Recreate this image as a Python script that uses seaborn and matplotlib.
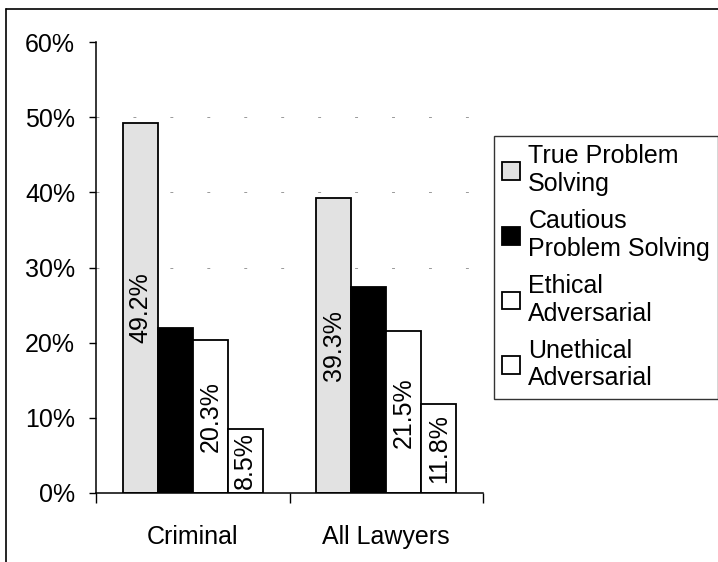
import matplotlib
matplotlib.use("Agg")
import matplotlib.pyplot as plt
import seaborn as sns
import pandas as pd
from matplotlib.lines import Line2D
from matplotlib.ticker import FuncFormatter, FixedLocator

groups = ["Criminal", "All Lawyers"]
styles = ["True Problem\nSolving", "Cautious\nProblem Solving", "Ethical\nAdversarial", "Unethical\nAdversarial"]
true_ps = [49.2, 39.3]
cautious_ps = [22.0, 27.4]
ethical_adv = [20.3, 21.5]
unethical_adv = [8.5, 11.8]
labelled = [True, False, True, True]
yticks = [0, 10, 20, 30, 40, 50, 60]

rows = []
for s, vals in zip(styles, [true_ps, cautious_ps, ethical_adv, unethical_adv]):
    for g, v in zip(groups, vals):
        rows.append({"group": g, "style": s, "value": v})
df = pd.DataFrame(rows)

sns.set_theme(style="white")
plt.rcParams["font.family"] = ["Liberation Sans", "DejaVu Sans"]

fig = plt.figure(figsize=(7.18, 5.62), dpi=100)
ax = fig.add_axes([96/718, 69/562, 387/718, 451/562])

palette = ["#e2e2e2", "#000000", "#ffffff", "#ffffff"]
sns.barplot(data=df, x="group", y="value", hue="style", hue_order=styles,
            order=groups, palette=palette, width=0.725, gap=0,
            edgecolor="black", linewidth=1.3, ax=ax, legend=True)

for cont, lab in zip(ax.containers, labelled):
    if lab:
        ax.bar_label(cont, labels=[f"{v:.1f}%" for v in cont.datavalues],
                     label_type="center", rotation=90, fontsize=18, color="black")

ax.set_ylim(0, 60)
ax.set_xlim(-0.5, 1.5)
ax.set_yticks(yticks)
ax.yaxis.set_major_formatter(FuncFormatter(lambda v, p: f"{v:.0f}%"))
ax.tick_params(axis="y", which="major", left=True, length=5, width=1, color="black",
               labelsize=18, pad=10, labelcolor="black")
ax.tick_params(axis="x", which="major", bottom=False, labelsize=18, pad=17, labelcolor="black")
ax.xaxis.set_minor_locator(FixedLocator([-0.5, 0.5, 1.5]))
ax.tick_params(axis="x", which="minor", bottom=True, length=7, width=1, color="black")
ax.set_xlabel("")
ax.set_ylabel("")

for sp in ["top", "right"]:
    ax.spines[sp].set_visible(False)
for sp in ["left", "bottom"]:
    ax.spines[sp].set_color("black")
    ax.spines[sp].set_linewidth(1.1)

for y in [30, 40, 50]:
    ax.axhline(y, color="#999999", linewidth=0.7, linestyle=(0, (3, 35)), zorder=0)

leg = ax.legend(loc="upper left", bbox_to_anchor=(494/718, 1-136/562),
                bbox_transform=fig.transFigure, borderaxespad=0,
                fontsize=18, frameon=True, fancybox=False, edgecolor="black",
                handlelength=0.72, handleheight=0.72, handletextpad=0.32,
                labelspacing=0.52, borderpad=0.33, title=None)
leg.get_frame().set_linewidth(1.0)
for t in leg.get_texts():
    t.set_color("black")

fig.add_artist(Line2D([6/718, 6/718], [0, 1-9/562], transform=fig.transFigure,
                      color="black", linewidth=1.2))
fig.add_artist(Line2D([6/718, 1], [1-9/562, 1-9/562], transform=fig.transFigure,
                      color="black", linewidth=1.2))

fig.savefig("out.png", dpi=100, facecolor="white")
